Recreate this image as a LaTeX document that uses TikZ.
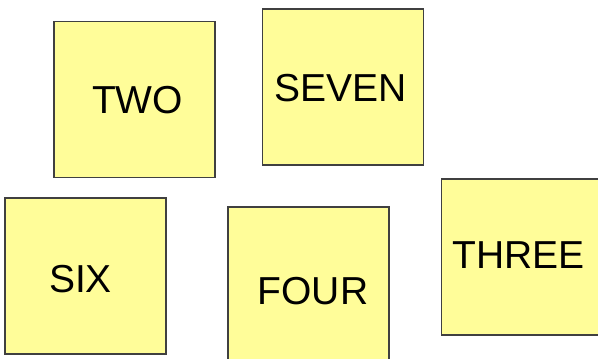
\documentclass[tikz,border=0pt]{standalone}
\usepackage{fontspec}
\setmainfont{Liberation Sans}
\definecolor{noteyellow}{HTML}{FFFD99}
\definecolor{noteedge}{HTML}{404040}
\begin{document}
\begin{tikzpicture}[x=1pt,y=-1pt,
  note/.style={draw=noteedge,fill=noteyellow,line width=1.2pt,rectangle,inner sep=0pt,
    minimum width=161pt,minimum height=156pt},
  word/.style={inner sep=0pt,font=\fontsize{39}{39}\selectfont}]
\useasboundingbox (0,0) rectangle (598,359);
\clip (0,0) rectangle (598,359);
\node[note] (two) at (134.5,99.5) {};
\node[note] (seven) at (343,87) {};
\node[note] (six) at (85.5,276) {};
\node[note] (four) at (308.5,285) {};
\node[note] (three) at (522,257) {};
\node[word] (ttwo) at (137.5,100) {TWO};
\node[word] (tseven) at (340.5,88.5) {SEVEN};
\node[word] (tsix) at (80.5,279) {SIX};
\node[word] (tfour) at (313,291) {FOUR};
\node[word] (tthree) at (518.5,255) {THREE};
\end{tikzpicture}
\end{document}
